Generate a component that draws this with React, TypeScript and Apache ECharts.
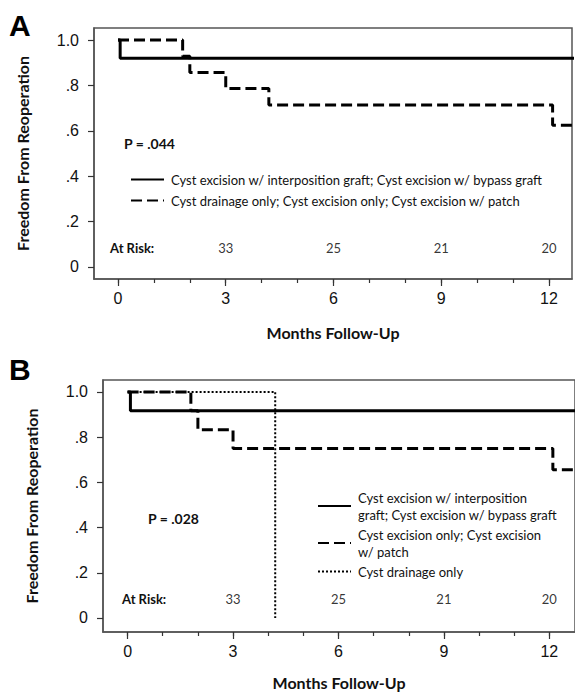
import React, { useEffect, useRef } from "react";
import * as echarts from "echarts";

// ---- data ----
const monthTicks = [0, 3, 6, 9, 12];
const monthMinorTicks = [0, 1, 2, 3, 4, 5, 6, 7, 8, 9, 10, 11, 12];
const survivalTicks = [0, 0.2, 0.4, 0.6, 0.8, 1.0];

const atRiskMonths = [3, 6, 9, 12];
const atRiskA = [33, 25, 21, 20];
const atRiskB = [33, 25, 21, 20];

const nameSolid = "Cyst excision w/ interposition graft; Cyst excision w/ bypass graft";
const nameDashA = "Cyst drainage only; Cyst excision only; Cyst excision w/ patch";
const nameDashB = "Cyst excision only; Cyst excision w/ patch";
const nameDotB = "Cyst drainage only";

// Panel A
const solidTimesA = [0, 0.06, 13];
const solidSurvA = [1, 0.92, 0.92];
const dashTimesA = [0, 1.8, 2.0, 3.0, 4.2, 12.1, 13];
const dashSurvA = [1, 0.929, 0.857, 0.786, 0.714, 0.625, 0.625];

// Panel B
const solidTimesB = [0, 0.08, 13];
const solidSurvB = [1, 0.917, 0.917];
const dashTimesB = [0, 1.8, 2.0, 3.0, 12.1, 13];
const dashSurvB = [1, 0.917, 0.833, 0.75, 0.656, 0.656];
const dotTimesB = [0, 4.2];
const dotSurvB = [1, 0];

const pValueA = "P = .044";
const pValueB = "P = .028";

const zip = (xs: number[], ys: number[]) => xs.map((x, i) => [x, ys[i]]);

const FONT = "Lato, 'Open Sans', sans-serif";
const TICKFONT = "'Liberation Sans', Arial, sans-serif";
const AXIS_COLOR = "#555";

function yFmt(v: number) {
  if (Math.abs(v) < 1e-9) return "0";
  if (Math.abs(v - 1) < 1e-9) return "1.0";
  return "." + Math.round(v * 10);
}

function makeX(gridIndex: number, min: number, max: number, major: boolean, nameGap: number) {
  return {
    type: "value",
    gridIndex,
    min,
    max,
    position: "bottom",
    name: major ? "Months Follow-Up" : "",
    nameLocation: "middle",
    nameGap,
    nameTextStyle: { fontFamily: FONT, fontWeight: "bold", fontSize: 16, color: "#111" },
    axisLine: { show: major, onZero: false, lineStyle: { color: AXIS_COLOR, width: 1.5 } },
    axisTick: {
      show: true,
      inside: false,
      length: major ? 7 : 4,
      customValues: major ? monthTicks : monthMinorTicks,
      lineStyle: { color: "#333", width: 1.2 },
    },
    axisLabel: {
      show: major,
      customValues: monthTicks,
      margin: 11,
      fontFamily: TICKFONT,
      fontSize: 16,
      color: "#111",
    },
    splitLine: { show: false },
  };
}

function makeY(gridIndex: number, min: number, max: number) {
  return {
    type: "value",
    gridIndex,
    min,
    max,
    name: "Freedom From Reoperation",
    nameLocation: "middle",
    nameGap: 64,
    nameTextStyle: { fontFamily: FONT, fontWeight: "bold", fontSize: 16, color: "#111" },
    axisLine: { show: true, onZero: false, lineStyle: { color: AXIS_COLOR, width: 1.5 } },
    axisTick: { show: true, length: 6, customValues: survivalTicks, lineStyle: { color: "#333", width: 1.2 } },
    axisLabel: {
      customValues: survivalTicks,
      formatter: yFmt,
      margin: 15,
      fontFamily: TICKFONT,
      fontSize: 16,
      color: "#111",
    },
    splitLine: { show: false },
  };
}

function kmLine(name: string, xs: number[], ys: number[], xi: number, yi: number, type: any, width: number) {
  return {
    type: "line",
    name,
    xAxisIndex: xi,
    yAxisIndex: yi,
    data: zip(xs, ys),
    step: "end",
    symbol: "none",
    clip: true,
    lineStyle: { color: "#000", width, type },
    itemStyle: { color: "#000" },
    z: 3,
  };
}

function atRiskSeries(values: number[], xi: number, yi: number) {
  return {
    type: "scatter",
    xAxisIndex: xi,
    yAxisIndex: yi,
    symbolSize: 1,
    itemStyle: { color: "rgba(0,0,0,0)" },
    data: atRiskMonths.map((m, i) => [m, 0.084, values[i]]),
    label: {
      show: true,
      position: "inside",
      formatter: (p: any) => String(p.value[2]),
      fontFamily: FONT,
      fontSize: 13,
      color: "#000",
    },
    silent: true,
  };
}

const legendWrap: Record<string, string> = {
  [nameSolid]: "Cyst excision w/ interposition\ngraft; Cyst excision w/ bypass graft",
  [nameDashB]: "Cyst excision only; Cyst excision\nw/ patch",
  [nameDotB]: "Cyst drainage only",
};

export default function App() {
  const ref = useRef<HTMLDivElement>(null);
  useEffect(() => {
    document.body.style.margin = "0";
    if (!ref.current) return;
    const chart = echarts.init(ref.current, undefined, { renderer: "svg" });
    const legendText = {
      fontFamily: FONT,
      fontSize: 13,
      color: "#111",
      lineHeight: 17,
      padding: [0, 0, 0, 2],
    };
    const option: any = {
      animation: false,
      backgroundColor: "#fff",
      grid: [
        { left: 94, top: 28, width: 478, height: 251, show: true, borderColor: AXIS_COLOR, borderWidth: 1.5 },
        { left: 103, top: 380, width: 480, height: 252, show: true, borderColor: AXIS_COLOR, borderWidth: 1.5 },
      ],
      xAxis: [
        makeX(0, -0.668, 12.64, true, 45),
        makeX(0, -0.668, 12.64, false, 45),
        makeX(1, -0.7, 12.73, true, 42),
        makeX(1, -0.7, 12.73, false, 42),
      ],
      yAxis: [makeY(0, -0.053, 1.053), makeY(1, -0.062, 1.053)],
      legend: [
        {
          data: [nameSolid, nameDashA],
          orient: "vertical",
          left: 125,
          top: 166,
          itemWidth: 33,
          itemHeight: 14,
          itemGap: 4,
          selectedMode: false,
          itemStyle: { opacity: 0 },
          textStyle: legendText,
        },
        {
          data: [nameSolid, nameDashB, nameDotB],
          orient: "vertical",
          left: 312,
          top: 484,
          itemWidth: 33,
          itemHeight: 14,
          itemGap: 3,
          selectedMode: false,
          itemStyle: { opacity: 0 },
          formatter: (n: string) => legendWrap[n] || n,
          textStyle: legendText,
        },
      ],
      series: [
        kmLine(nameSolid, solidTimesA, solidSurvA, 0, 0, "solid", 3),
        kmLine(nameDashA, dashTimesA, dashSurvA, 0, 0, [11, 5], 3),
        atRiskSeries(atRiskA, 0, 0),
        kmLine(nameSolid, solidTimesB, solidSurvB, 2, 1, "solid", 3),
        kmLine(nameDashB, dashTimesB, dashSurvB, 2, 1, [11, 5], 3),
        kmLine(nameDotB, dotTimesB, dotSurvB, 2, 1, [2, 2], 2),
        atRiskSeries(atRiskB, 2, 1),
      ],
      graphic: [
        { type: "text", x: 9, y: 25, style: { text: "A", font: "bold 30px 'Liberation Sans', Arial, sans-serif", fill: "#000", verticalAlign: "middle" } },
        { type: "text", x: 9, y: 369, style: { text: "B", font: "bold 30px 'Liberation Sans', Arial, sans-serif", fill: "#000", verticalAlign: "middle" } },
        { type: "text", x: 124, y: 143, style: { text: pValueA, font: `bold 14px ${FONT}`, fill: "#111", verticalAlign: "middle" } },
        { type: "text", x: 148, y: 518, style: { text: pValueB, font: `bold 14px ${FONT}`, fill: "#111", verticalAlign: "middle" } },
        { type: "text", x: 110, y: 248, style: { text: "At Risk:", font: `bold 13px ${FONT}`, fill: "#111", verticalAlign: "middle" } },
        { type: "text", x: 122, y: 599, style: { text: "At Risk:", font: `bold 13px ${FONT}`, fill: "#111", verticalAlign: "middle" } },
      ],
    };
    chart.setOption(option);
    return () => chart.dispose();
  }, []);
  return <div ref={ref} style={{ width: 575, height: 692 }} />;
}
